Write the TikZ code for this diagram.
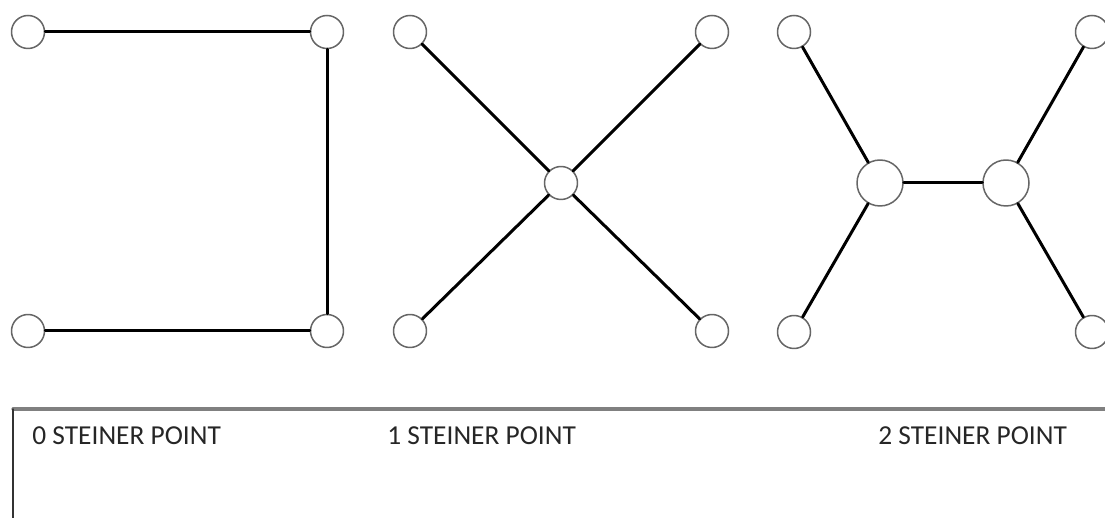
\documentclass[tikz,border=0pt]{standalone}
\usepackage{fontspec}
\setmainfont{Carlito}
\begin{document}
\begin{tikzpicture}[x=0.5pt,y=-0.5pt,line cap=round,line join=round,
  term/.style={circle,draw=black!60,line width=0.75pt,fill=white,minimum size=16.5pt,inner sep=0pt},
  steiner/.style={term,minimum size=23pt},
  edge/.style={line width=1.5pt,black},
  caption/.style={anchor=base west,inner sep=0pt,text=black!85,font=\fontsize{13.7}{16}\selectfont}]
  \useasboundingbox (0,0) rectangle (1105,518);
  \clip (0,0) rectangle (1105,518);
  % 0 steiner point
  \node[term] (a1) at (28,32) {};
  \node[term] (a2) at (327,32) {};
  \node[term] (a3) at (28,331) {};
  \node[term] (a4) at (327,331) {};
  \draw[edge] (a1) -- (a2);
  \draw[edge] (a2) -- (a4);
  \draw[edge] (a3) -- (a4);
  % 1 steiner point
  \node[term] (b1) at (410,32) {};
  \node[term] (b2) at (712,32) {};
  \node[term] (b3) at (410,331) {};
  \node[term] (b4) at (712,331) {};
  \node[term] (bs) at (561,183) {};
  \draw[edge] (b1) -- (bs);
  \draw[edge] (b2) -- (bs);
  \draw[edge] (b3) -- (bs);
  \draw[edge] (b4) -- (bs);
  % 2 steiner points
  \node[term] (c1) at (794,32) {};
  \node[term] (c2) at (1092,32) {};
  \node[term] (c3) at (794,332) {};
  \node[term] (c4) at (1092,332) {};
  \node[steiner] (cs1) at (880,183) {};
  \node[steiner] (cs2) at (1006,183) {};
  \draw[edge] (c1) -- (cs1);
  \draw[edge] (c3) -- (cs1);
  \draw[edge] (cs1) -- (cs2);
  \draw[edge] (cs2) -- (c2);
  \draw[edge] (cs2) -- (c4);
  % caption box
  \draw[black!50,line width=1.6pt] (13,409) -- (1120,409);
  \draw[black!80,line width=0.6pt] (13,409) -- (13,530);
  \node[caption] (t0) at (32,445) {0 STEINER POINT};
  \node[caption] (t1) at (387,445) {1 STEINER POINT};
  \node[caption] (t2) at (878,445) {2 STEINER POINT};
\end{tikzpicture}
\end{document}
